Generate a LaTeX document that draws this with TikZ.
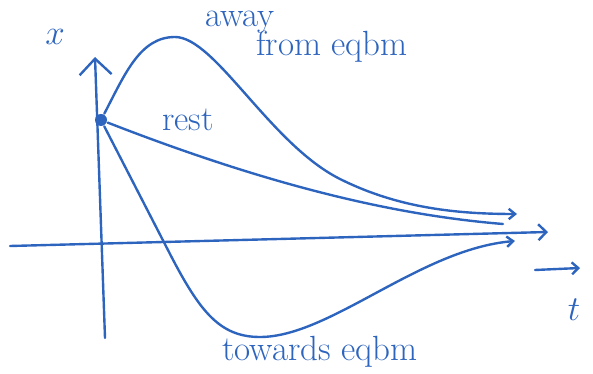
\documentclass[tikz,border=0pt]{standalone}
\usepackage{xcolor}
\definecolor{inkblue}{RGB}{45,100,190}
\usetikzlibrary{arrows.meta,positioning}

\begin{document}
\begin{tikzpicture}[x=0.025cm,y=0.025cm, font=\Huge, line width=1.7pt, inkblue,
  axis/.style={draw=inkblue,line cap=round},
  curve/.style={draw=inkblue,line cap=round},
  tip/.style={-{Straight Barb[length=1.6mm,width=2.6mm]}},
  lbl/.style={text=inkblue,inner sep=1pt},
  restdot/.style={circle,fill=inkblue,inner sep=0pt,minimum size=3mm}]
  \useasboundingbox (0,0) rectangle (593,374);

  % axes
  \coordinate (ybot) at (105,36);
  \coordinate (ytop) at (95,317);
  \coordinate (xleft) at (10,128);
  \coordinate (xright) at (548,142);
  \draw[axis,-{Straight Barb[length=4mm,width=8mm]}] (ybot) -- (ytop);
  \draw[axis,-{Straight Barb[length=2mm,width=4mm]}] (xleft) -- (xright);
  \node[lbl] (xlab) at (55,337) {$x$};

  % time arrow and label
  \coordinate (tarrL) at (535,104);
  \coordinate (tarrR) at (580,106);
  \draw[axis,-{Straight Barb[length=1.6mm,width=3mm]}] (tarrL) -- (tarrR);
  \node[lbl] (tlab) at (574,64) {$t$};

  % starting point
  \node[restdot] (start) at (101,254) {};
  \coordinate (peak) at (175,337);
  \coordinate (awayend) at (517,160);
  \coordinate (restend) at (503,150);
  \coordinate (bend) at (170,120);
  \coordinate (trough) at (260,37);
  \coordinate (towend) at (515,133);

  % away from equilibrium
  \draw[curve,tip] (start) .. controls (125,300) and (140,337) .. (peak)
    .. controls (215,337) and (270,230) .. (340,195)
    .. controls (400,165) and (460,160) .. (awayend);
  % from rest
  \draw[curve] (start) .. controls (250,196) and (380,160) .. (restend);
  % towards equilibrium
  \draw[curve,tip] (start) -- (bend) .. controls (200,62) and (220,37) .. (trough)
    .. controls (330,37) and (420,125) .. (towend);

  \node[lbl] (away) at (240,352) {away};
  \node[lbl,below right=-2mm and -6mm of away] (from) {from eqbm};
  \node[lbl] (rest) at (188,254) {rest};
  \node[lbl] (towards) at (320,22) {towards eqbm};
\end{tikzpicture}
\end{document}
